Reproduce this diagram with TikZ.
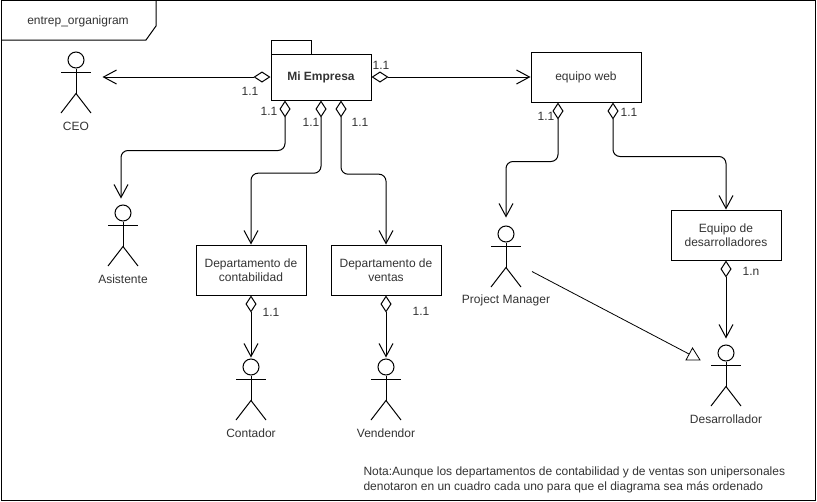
\documentclass[tikz,border=0pt]{standalone}
\usepackage{fontspec}
\setmainfont{Liberation Sans}
\usetikzlibrary{arrows.meta}
\definecolor{labelgray}{gray}{0.2}
\tikzset{
    txt/.style={text=labelgray, font=\fontsize{12}{14}\selectfont, inner sep=0pt, align=center},
    box/.style={draw, rectangle, minimum width=110pt, minimum height=50pt, inner sep=0pt, txt},
    agg/.style={{Diamond[open, length=17pt, width=11pt]}-{Straight Barb[length=13pt, width=14pt]}, rounded corners=7pt},
    actor/.pic={
        \node[draw, circle, minimum size=16pt, inner sep=0pt] (head) at (0,0) {};
        \draw (head) -- (0,33.5) coordinate (hip);
        \draw (-15,12.5) -- (15,12.5);
        \draw (-15,53) -- (hip) -- (15,53);
        \node[txt] (label) at (0,66.5) {#1};
    }
}
\begin{document}
\begin{tikzpicture}[x=1pt, y=-1pt, line width=1pt]
    \useasboundingbox (0,0) rectangle (817,501);

    % Frame
    \draw (1,0.5) rectangle (815.5,500);
    \draw (1,40) -- (146,40) -- (156,26) -- (156,0.5);
    \node[txt] (title) at (78,21) {entrep\_organigram};

    % Boxes
    \draw (271,54) -- (271,40) -- (311,40) -- (311,54);
    \node[draw, rectangle, minimum width=100pt, minimum height=46pt, inner sep=0pt, txt] (empresa) at (321,77) {\textbf{Mi Empresa}};
    \node[box] (web) at (586,77) {equipo web};
    \node[box] (conta) at (251,270) {Departamento de\\contabilidad};
    \node[box] (ventas) at (386,270) {Departamento de\\ventas};
    \node[box] (devs) at (726,235) {Equipo de\\desarrolladores};

    % Actors
    \pic (ceo) at (76,60) {actor={CEO}};
    \pic (asist) at (123,213) {actor={Asistente}};
    \pic (contador) at (251,367) {actor={Contador}};
    \pic (vendedor) at (386,367) {actor={Vendendor}};
    \pic (pm) at (506,234) {actor={Project Manager}};
    \pic (dev) at (726,353) {actor={Desarrollador}};

    % Generalization
    \node[inner sep=0pt] (pmend) at (531,271) {};
    \coordinate (gen) at (689,354);
    \draw[line width=0.8pt] (686,360) -- (692.5,348) -- (700,360) -- cycle;
    \draw[line width=0.8pt] (pmend) -- (gen);

    % Edges
    \draw[agg, shorten >=18pt] (empresa.west |- 0,77) -- (ceohead.east |- 0,77);
    \draw[agg] (empresa.east) -- (web.west);
    \draw[agg, shorten >=6pt] ([xshift=-36pt]empresa.south) -- ++(0,50) -| ([xshift=-2pt]asisthead.north);
    \draw[agg] (empresa.south) -- ++(0,72.7) -| (conta.north);
    \draw[agg] ([xshift=20pt]empresa.south) -- ++(0,73.7) -| (ventas.north);
    \draw[agg, shorten >=8pt] ([xshift=-28pt]web.south) -- ++(0,59) -| (pmhead.north);
    \draw[agg] ([xshift=27pt]web.south) -- ++(0,54) -| (devs.north);
    \draw[agg, shorten >=1pt] (conta.south) -- (contadorhead.north);
    \draw[agg, shorten >=1pt] (ventas.south) -- (vendedorhead.north);
    \draw[agg, shorten >=6pt] (devs.south) -- (devhead.north);

    % Multiplicities
    \node[txt] (m1) at (250,91) {1.1};
    \node[txt] (m2) at (269,111) {1.1};
    \node[txt] (m3) at (311,122) {1.1};
    \node[txt] (m4) at (360,122) {1.1};
    \node[txt] (m5) at (381,65) {1.1};
    \node[txt] (m6) at (546,116) {1.1};
    \node[txt] (m7) at (629,112) {1.1};
    \node[txt] (m8) at (271,312) {1.1};
    \node[txt] (m9) at (421,311) {1.1};
    \node[txt] (m10) at (751,271) {1.n};

    % Note
    \node[txt, align=left, anchor=west] (nota) at (363,479.5) {Nota:Aunque los departamentos de contabilidad y de ventas son unipersonales\\[1pt]denotaron en un cuadro cada uno para que el diagrama sea más ordenado};
\end{tikzpicture}
\end{document}
